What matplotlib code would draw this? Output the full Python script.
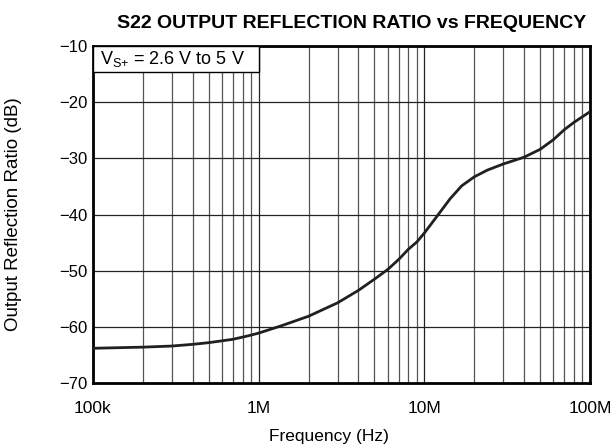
import matplotlib
matplotlib.use("Agg")
import matplotlib.pyplot as plt
from matplotlib.patches import Rectangle
from matplotlib.ticker import FixedLocator, NullFormatter

plt.rcParams['font.family'] = ['Liberation Sans', 'DejaVu Sans']
plt.rcParams['mathtext.fontset'] = 'custom'
plt.rcParams['mathtext.rm'] = 'Liberation Sans'
plt.rcParams['mathtext.it'] = 'Liberation Sans:italic'
plt.rcParams['mathtext.bf'] = 'Liberation Sans:bold'

# S22 measured curve: frequency (Hz) and output reflection ratio (dB)
freq_hz = [1e5, 2e5, 3e5, 4e5, 5e5, 7e5, 8.6e5, 1e6, 1.37e6, 2e6, 3e6,
           4e6, 5e6, 6e6, 7e6, 8e6, 9e6, 1e7, 1.28e7, 1.43e7, 1.68e7,
           2e7, 2.4e7, 3e7, 4e7, 5e7, 6e7, 7e7, 8e7, 9e7, 1e8]
s22_db = [-63.8, -63.6, -63.4, -63.1, -62.8, -62.2, -61.6, -61.1, -59.8,
          -58.1, -55.7, -53.5, -51.5, -49.8, -48.0, -46.2, -44.9, -43.3,
          -39.1, -37.2, -34.9, -33.3, -32.1, -31.0, -29.8, -28.4, -26.7,
          -24.9, -23.6, -22.6, -21.7]

x_ticks = [1e5, 1e6, 1e7, 1e8]
x_tick_labels = ['100k', '1M', '10M', '100M']
y_ticks = [-70, -60, -50, -40, -30, -20, -10]
y_tick_labels = ['\u221270', '\u221260', '\u221250', '\u221240', '\u221230', '\u221220', '\u221210']

fig = plt.figure(figsize=(6.13, 4.46), dpi=100)
ax = fig.add_axes([0.1517, 0.141, 0.8108, 0.756])

ax.set_xscale('log')
ax.set_xlim(1e5, 1e8)
ax.set_ylim(-70, -10)

minor = [m * 10 ** d for d in range(5, 8) for m in range(2, 10)]
ax.xaxis.set_major_locator(FixedLocator(x_ticks))
ax.xaxis.set_minor_locator(FixedLocator(minor))
ax.xaxis.set_minor_formatter(NullFormatter())
ax.set_xticks(x_ticks, x_tick_labels)
ax.set_yticks(y_ticks, y_tick_labels)

ax.grid(which='major', axis='both', color='#222222', lw=0.9)
ax.grid(which='minor', axis='x', color='#555555', lw=0.9)
ax.tick_params(which='both', length=0, colors='black')
ax.tick_params(axis='x', pad=13, labelsize=12.5)
ax.tick_params(axis='y', pad=4, labelsize=12)

for s in ax.spines.values():
    s.set_linewidth(2.0)
    s.set_color('black')

ax.plot(freq_hz, s22_db, color='#231f20', lw=2.0, solid_joinstyle='round',
        zorder=4)

# condition box in the upper-left corner
ax.add_patch(Rectangle((1e5, -14.7), 1e6 - 1e5, 4.7, facecolor='white',
                       edgecolor='black', lw=1.0, zorder=3))
ax.text(1.1e5, -12.3, r'V$_{\mathrm{S{+}}}$ = 2.6 V to 5 V', fontsize=13,
        va='center', ha='left', zorder=5)

ax.set_title('S22 OUTPUT REFLECTION RATIO vs FREQUENCY', fontsize=14,
             fontweight='bold', pad=13, x=0.52)
ax.set_xlabel('Frequency (Hz)', fontsize=12.5, labelpad=9, x=0.474)
ax.set_ylabel('Output Reflection Ratio (dB)', fontsize=13.5)
ax.yaxis.set_label_coords(-0.143, 0.5)

fig.savefig('out.png', dpi=100)
